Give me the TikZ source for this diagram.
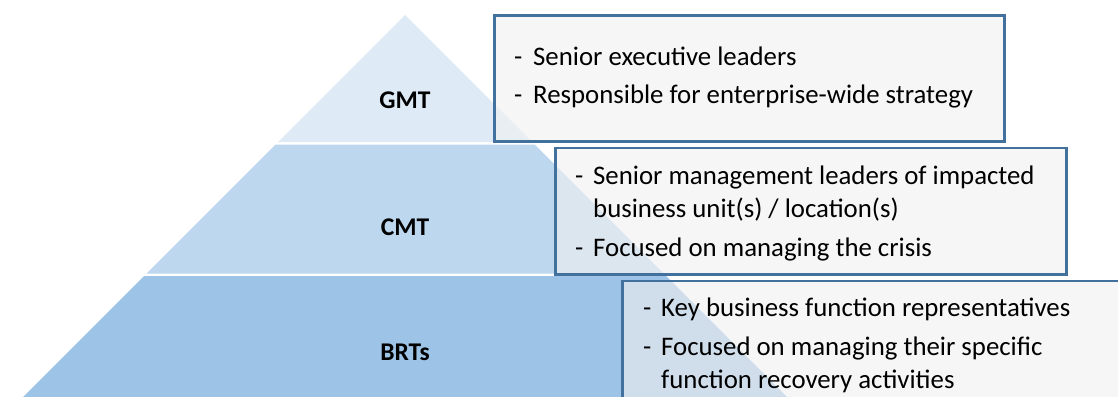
\documentclass[tikz,border=0pt]{standalone}
\usepackage{fontspec}
\setmainfont{Carlito}
\usetikzlibrary{positioning}

\definecolor{layertop}{HTML}{DEEBF7}
\definecolor{layermid}{HTML}{BDD7EE}
\definecolor{layerlow}{HTML}{9DC3E6}
\definecolor{boxline}{HTML}{41719C}
\definecolor{boxfill}{HTML}{F0F0F0}

\tikzset{
	infobox/.style={rectangle, draw=boxline, line width=2.6pt, fill=boxfill,
		fill opacity=0.62, inner sep=0pt, anchor=north west},
	infotext/.style={anchor=base west, inner sep=0pt, align=left,
		font=\fontsize{26.8}{33}\selectfont},
	layerlabel/.style={font=\bfseries\fontsize{25.5}{30}\selectfont},
}

\begin{document}
\begin{tikzpicture}[x=1pt,y=-1pt]
		\useasboundingbox (0,0) rectangle (1118,396);
		\clip (0,0) rectangle (1118,396);
		
		% pyramid layers
		\fill[layertop] (405,15) -- (532,142) -- (278,142) -- cycle;
		\fill[layermid] (275.5,144.5) -- (534.5,144.5) -- (663.5,273.5) -- (146.5,273.5) -- cycle;
		\fill[layerlow] (144,276) -- (666,276) -- (790,400) -- (20,400) -- cycle;
		
		\node[layerlabel] (gmt) at (405,100) {GMT};
		\node[layerlabel] (cmt) at (405,227) {CMT};
		\node[layerlabel] (brt) at (405,352) {BRTs};
		
		% description boxes
		\node[infobox, minimum width=510pt, minimum height=126pt] (gmtbox) at (493,14) {};
		\node[infobox, minimum width=511pt, minimum height=126.5pt] (cmtbox) at (554,146.5) {};
		\node[infobox, minimum width=520pt, minimum height=140pt] (brtbox) at (621,279.5) {};
		
		\node[infotext] (gmtnotes) at (514,65) {\begin{tabular}[t]{@{}p{19pt}@{}l@{}}
			- & Senior executive leaders\\[6pt]
			- & Responsible for enterprise-wide strategy
		\end{tabular}};
		\node[infotext] (cmtnotes) at (575,184) {\begin{tabular}[t]{@{}p{18pt}@{}l@{}}
			- & Senior management leaders of impacted\\
			  & business unit(s) / location(s)\\[6pt]
			- & Focused on managing the crisis
		\end{tabular}};
		\node[infotext] (brtnotes) at (643,316) {\begin{tabular}[t]{@{}p{18pt}@{}l@{}}
			- & Key business function representatives\\[6pt]
			- & Focused on managing their specific\\
			  & function recovery activities
		\end{tabular}};
	\end{tikzpicture}
\end{document}
